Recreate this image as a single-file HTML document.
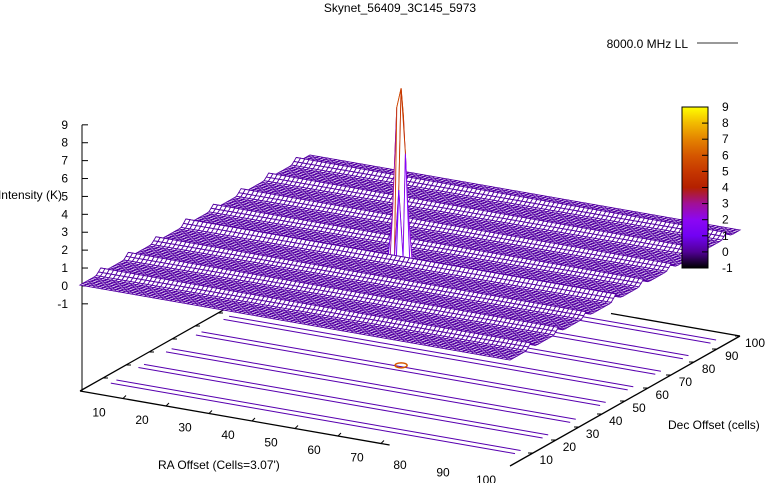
<!DOCTYPE html>
<html><head><meta charset="utf-8"><style>
html,body{margin:0;padding:0;background:#fff}
svg{display:block;font-family:"Liberation Sans",sans-serif;font-size:12px}
</style></head><body>
<svg id="chart" width="775" height="483" viewBox="0 0 775 483">
<defs><linearGradient id="cbg" x1="0" y1="1" x2="0" y2="0"></linearGradient></defs>
<text x="400" y="12" text-anchor="middle">Skynet_56409_3C145_5973</text>
<text x="688" y="48" text-anchor="end">8000.0 MHz LL</text>
<line x1="697" y1="43" x2="738" y2="43" stroke="#333" stroke-width="1"/>
<text x="62" y="199" text-anchor="end">Intensity (K)</text>
<text x="158" y="469">RA Offset (Cells=3.07')</text>
<text x="668" y="429">Dec Offset (cells)</text>
<g id="base"></g><g id="surf"></g><g id="cb"></g>
</svg>
<script>
const zTicks=[-1,0,1,2,3,4,5,6,7,8,9];
const raTicks=[10,20,30,40,50,60,70,80,90,100];
const decTicks=[10,20,30,40,50,60,70,80,90,100];
const cbTicks=[-1,0,1,2,3,4,5,6,7,8,9];
const ridgeDec=[9,21,33,46,58,70,82,94];
const ridgeHeight=[0.3,0.3,0.3,0.35,0.3,0.3,0.3,0.3];
const peakRA=[48,49,49,50,48,49,50,47];
const peakDec=[48,48,49,48,49,47,49,48];
const peakZ=[8.5,9.6,8,6,5,4,3,2.5];
const NS='http://www.w3.org/2000/svg';
const gB=document.getElementById('base'),gS=document.getElementById('surf'),gC=document.getElementById('cb');
const ZBASE=-5.87;
function P(ra,dec,z){return [80+4.3*ra+2.3*dec, 391+0.75*ra-1.3*dec-(z-ZBASE)*17.9];}
function pal(v){let x=Math.max(0,Math.min(1,(v+1)/10));
 const r=Math.sqrt(x),g=x*x*x,b=Math.max(0,Math.sin(2*Math.PI*x));
 return 'rgb('+Math.round(r*255)+','+Math.round(g*255)+','+Math.round(b*255)+')';}
function mk(tag,parent,attrs){const e=document.createElementNS(NS,tag);for(const k in attrs)e.setAttribute(k,attrs[k]);parent.appendChild(e);return e;}
function zval(ra,dec){let z=0.05;
 for(let k=0;k<ridgeDec.length;k++){const d=(dec-ridgeDec[k])/1.2;z+=ridgeHeight[k]*Math.exp(-d*d);}
 for(let k=0;k<peakRA.length;k++){if(Math.abs(ra-peakRA[k])<0.5&&Math.abs(dec-peakDec[k])<0.5)z=Math.max(z,peakZ[k]);}
 return z;}
let e=mk('line',gB,{x1:82,y1:P(0,0,9)[1],x2:82,y2:391,stroke:'#000'});


zTicks.forEach(t=>{const y=P(0,0,t)[1];
 let l=mk('line',gB,{x1:82,y1:y,x2:88,y2:y,stroke:'#000'});
 
 
 let tx=mk('text',gB,{x:68,y:y+4,'text-anchor':'end'});tx.textContent=t;
 
 });
let o=P(0,0,ZBASE),a=P(72,0,ZBASE);
e=mk('line',gB,{x1:o[0],y1:o[1],x2:a[0],y2:a[1],stroke:'#000','stroke-width':1.3});


raTicks.forEach(t=>{const p=P(t,0,ZBASE);
 if(t<=72){let l=mk('line',gB,{x1:p[0],y1:p[1],x2:p[0]+3,y2:p[1]-3,stroke:'#000'});
 
 }
 let tx=mk('text',gB,{x:p[0]-24,y:p[1]+18,'text-anchor':'middle'});tx.textContent=t;
 
 });
let d0=P(0,100,ZBASE);
e=mk('line',gB,{x1:o[0],y1:o[1],x2:d0[0],y2:d0[1],stroke:'#000','stroke-width':1.3});


let r0=P(100,0,ZBASE),r1=P(100,100,ZBASE);
e=mk('line',gB,{x1:r0[0],y1:r0[1],x2:r1[0],y2:r1[1],stroke:'#000','stroke-width':1.3});


e=mk('line',gB,{x1:r1[0],y1:r1[1],x2:P(70,100,ZBASE)[0],y2:P(70,100,ZBASE)[1],stroke:'#000','stroke-width':1.3});


decTicks.forEach(t=>{const p=P(100,t,ZBASE),q=P(0,t,ZBASE);
 let l=mk('line',gB,{x1:p[0],y1:p[1],x2:p[0]-5,y2:p[1],stroke:'#000'});
 
 
 let l2=mk('line',gB,{x1:q[0],y1:q[1],x2:q[0]+5,y2:q[1],stroke:'#000'});
 
 
 let tx=mk('text',gB,{x:p[0]+13+t*0.02,y:p[1]+11,'text-anchor':'middle'});tx.textContent=t;
 
 });
ridgeDec.forEach((r,k)=>{[-1.2,1.2].forEach(off=>{
 let pts=[];for(let ra=3;ra<=97;ra+=2){const p=P(ra,r+off,ZBASE);pts.push(p[0].toFixed(1)+','+p[1].toFixed(1));}
 let pl=mk('polyline',gB,{points:pts.join(' '),fill:'none',stroke:pal(0.2),'stroke-width':1});
 
 });});
{const p=P(peakRA[1],peakDec[1],ZBASE);
 let el=mk('ellipse',gB,{cx:p[0],cy:p[1],rx:6,ry:2.5,fill:'none',stroke:pal(6),'stroke-width':1.5});
 
 }
const N=100,S=100/N;const Z=[];
for(let i=0;i<=N;i++){Z.push([]);for(let j=0;j<=N;j++)Z[i].push(zval(i*S,j*S));}
const quads=[];
for(let i=0;i<N;i++)for(let j=0;j<N;j++)quads.push([i,j,0.75*i-1.3*j]);
quads.sort((a,b)=>a[2]-b[2]);
quads.forEach(q=>{const i=q[0],j=q[1];
 const c=[[i,j],[i+1,j],[i+1,j+1],[i,j+1]].map(v=>P(v[0]*S,v[1]*S,Z[v[0]][v[1]]));
 const zm=(Z[i][j]+Z[i+1][j]+Z[i+1][j+1]+Z[i][j+1])/4;
 let pg=mk('polygon',gS,{points:c.map(p=>p[0].toFixed(1)+','+p[1].toFixed(1)).join(' '),fill:'#fff',stroke:pal(zm>0.6?Math.min(zm,5.5):0.1),'stroke-width':0.9});
 
 });
const grad=document.getElementById('cbg');
for(let s=0;s<=10;s++){mk('stop',grad,{offset:(s*10)+'%','stop-color':pal(-1+s)});}
e=mk('rect',gC,{x:682,y:107,width:26,height:161,fill:'url(#cbg)',stroke:'#000'});


cbTicks.forEach(t=>{const y=268-(t+1)*16.1;
 let l=mk('line',gC,{x1:702,y1:y,x2:708,y2:y,stroke:'#000'});
 
 
 let tx=mk('text',gC,{x:722,y:y+4});tx.textContent=t;
 
 });
</script>
</body></html>
